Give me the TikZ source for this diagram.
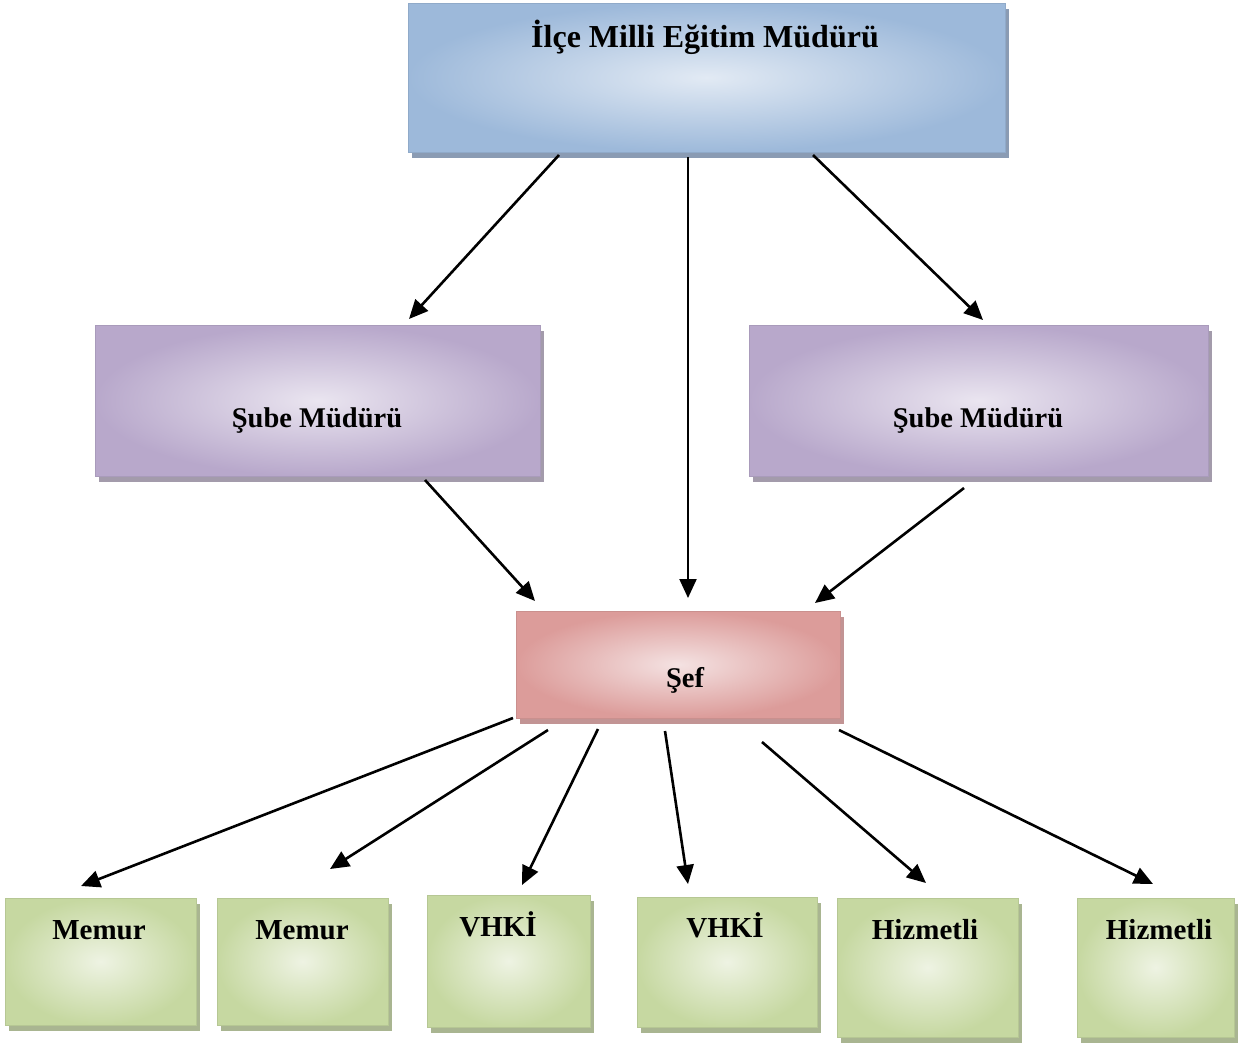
\documentclass[tikz,border=0pt]{standalone}
\usepackage{fontspec}
\setmainfont{Liberation Serif}
\usetikzlibrary{arrows.meta,shadows,calc}
\definecolor{blueout}{HTML}{9DB9DA}
\definecolor{bluein}{HTML}{E2EAF4}
\definecolor{bluesh}{HTML}{8A9BB3}
\definecolor{purpout}{HTML}{B8A8CB}
\definecolor{purpin}{HTML}{EAE5F0}
\definecolor{purpsh}{HTML}{A39BAB}
\definecolor{pinkout}{HTML}{DC9C9A}
\definecolor{pinkin}{HTML}{F4E2E2}
\definecolor{pinksh}{HTML}{C29494}
\definecolor{greenout}{HTML}{C6D8A1}
\definecolor{greenin}{HTML}{EEF3E3}
\definecolor{greensh}{HTML}{A9B591}
\tikzset{
  orgbox/.style={rectangle, inner sep=0pt, draw=#1out!92!black, line width=0.6pt,
    inner color=#1in, outer color=#1out,
    drop shadow={shadow xshift=4pt, shadow yshift=-6pt, fill=#1sh, opacity=1}},
  lbl/.style={font=\bfseries\fontsize{28.5}{30}\selectfont, inner sep=0pt},
  lblbig/.style={font=\bfseries\fontsize{32}{34}\selectfont, inner sep=0pt},
  lblsm/.style={font=\bfseries\fontsize{29}{31}\selectfont, inner sep=0pt},
  arr/.style={-{Triangle[length=19pt,width=17pt]}, line width=2.6pt, black},
}
\begin{document}
\begin{tikzpicture}[x=1pt,y=-1pt]
\useasboundingbox (0,0) rectangle (1238,1042);
% boxes
\node[orgbox=blue, minimum width=597pt, minimum height=149pt] (top) at (706.5,77.5) {};
\node[orgbox=purp, minimum width=445pt, minimum height=151pt] (subL) at (317.5,400.5) {};
\node[orgbox=purp, minimum width=459pt, minimum height=151pt] (subR) at (978.5,400.5) {};
\node[orgbox=pink, minimum width=324pt, minimum height=107pt] (sef) at (678,664.5) {};
\node[orgbox=green, minimum width=191pt, minimum height=127pt] (m1) at (100.5,961.5) {};
\node[orgbox=green, minimum width=171pt, minimum height=127pt] (m2) at (302.5,961.5) {};
\node[orgbox=green, minimum width=163pt, minimum height=132pt] (v1) at (508.5,961) {};
\node[orgbox=green, minimum width=180pt, minimum height=130pt] (v2) at (727,962) {};
\node[orgbox=green, minimum width=181pt, minimum height=139pt] (h1) at (927.5,967.5) {};
\node[orgbox=green, minimum width=157pt, minimum height=139pt] (h2) at (1155.5,967.5) {};
% labels
\node[lblbig] (ttop) at (705,37) {İlçe Milli Eğitim Müdürü};
\node[lbl] (tsubL) at (317,421) {Şube Müdürü};
\node[lbl] (tsubR) at (978,421) {Şube Müdürü};
\node[lbl] (tsef) at (685,680) {Şef};
\node[lblsm] (tm1) at (99,930) {Memur};
\node[lblsm] (tm2) at (302,930) {Memur};
\node[lblsm] (tv1) at (498,924) {VHKİ};
\node[lblsm] (tv2) at (725,925) {VHKİ};
\node[lblsm] (th1) at (925,930) {Hizmetli};
\node[lblsm] (th2) at (1159,930) {Hizmetli};
% connector end points
\coordinate (a1s) at (559,155);  \coordinate (a1e) at (409,319);
\coordinate (a2s) at (688,157);  \coordinate (a2e) at (688,598);
\coordinate (a3s) at (813,155);  \coordinate (a3e) at (983,320);
\coordinate (a4s) at (425,480);  \coordinate (a4e) at (535,601);
\coordinate (a5s) at (964,488);  \coordinate (a5e) at (815,603);
\coordinate (b1s) at (513,718);  \coordinate (b1e) at (81,886);
\coordinate (b2s) at (548,730);  \coordinate (b2e) at (330,869);
\coordinate (b3s) at (598,729);  \coordinate (b3e) at (522,885);
\coordinate (b4s) at (665,731);  \coordinate (b4e) at (688,884);
\coordinate (b5s) at (762,742);  \coordinate (b5e) at (926,883);
\coordinate (b6s) at (839,730);  \coordinate (b6e) at (1153,884);
% connectors
\draw[arr] (a1s) -- (a1e);
\draw[arr, line width=2.2pt] (a2s) -- (a2e);
\draw[arr] (a3s) -- (a3e);
\draw[arr] (a4s) -- (a4e);
\draw[arr] (a5s) -- (a5e);
\draw[arr] (b1s) -- (b1e);
\draw[arr] (b2s) -- (b2e);
\draw[arr] (b3s) -- (b3e);
\draw[arr] (b4s) -- (b4e);
\draw[arr] (b5s) -- (b5e);
\draw[arr] (b6s) -- (b6e);
\end{tikzpicture}
\end{document}
